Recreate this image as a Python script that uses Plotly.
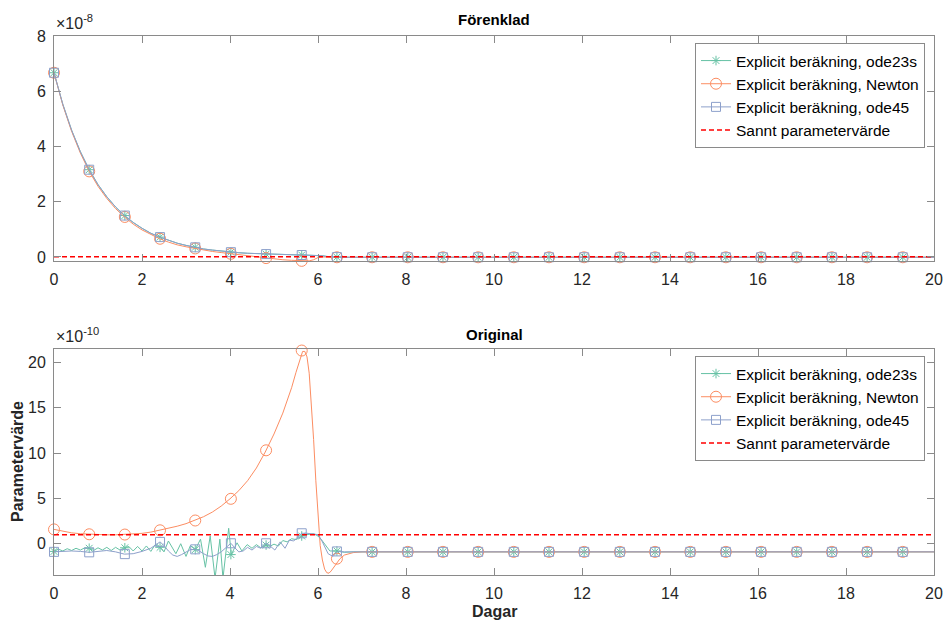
import plotly.graph_objects as go

# ---------------- data ----------------
# marker positions (days), shared by all series
t_mark = [0.0, 0.80, 1.61, 2.41, 3.21, 4.02, 4.82, 5.63, 6.43, 7.23, 8.04, 8.84,
          9.64, 10.45, 11.25, 12.05, 12.86, 13.66, 14.46, 15.27, 16.07, 16.88,
          17.68, 18.48, 19.29]

# ---- top panel "Förenklad" (units of 1e-8) ----
t_top = [0.0, 0.2, 0.4, 0.6, 0.8, 1.0, 1.2, 1.4, 1.6, 1.8, 2.0, 2.2, 2.4, 2.6,
         2.8, 3.0, 3.2, 3.4, 3.6, 3.8, 4.0, 4.2, 4.4, 4.6, 4.8, 5.0, 5.2, 5.4,
         5.6, 5.7, 5.8, 5.9, 6.0, 6.1, 6.2, 6.4, 6.6, 7.0, 8.0, 10.0, 12.0,
         14.0, 16.0, 18.0, 20.0]
top_ode23s = [6.67, 5.53, 4.59, 3.81, 3.16, 2.62, 2.18, 1.81, 1.50, 1.25, 1.04,
              0.86, 0.72, 0.60, 0.50, 0.42, 0.35, 0.29, 0.25, 0.21, 0.18, 0.155,
              0.135, 0.12, 0.105, 0.095, 0.085, 0.078, 0.072, 0.07, 0.068,
              0.065, 0.06, 0.045, 0.02, -0.005, -0.01, -0.01, -0.01, -0.01,
              -0.01, -0.01, -0.01, -0.01, -0.01]
top_newton = [6.67, 5.50, 4.55, 3.76, 3.10, 2.56, 2.12, 1.75, 1.45, 1.19, 0.98,
              0.81, 0.66, 0.54, 0.44, 0.37, 0.31, 0.25, 0.20, 0.16, 0.12, 0.08,
              0.04, 0.0, -0.04, -0.07, -0.10, -0.12, -0.14, -0.145, -0.14,
              -0.10, -0.02, 0.0, -0.005, -0.01, -0.01, -0.01, -0.01, -0.01,
              -0.01, -0.01, -0.01, -0.01, -0.01]
top_ode45 = [6.67, 5.53, 4.59, 3.81, 3.16, 2.62, 2.18, 1.81, 1.50, 1.25, 1.04,
             0.86, 0.72, 0.60, 0.50, 0.42, 0.35, 0.29, 0.25, 0.21, 0.18, 0.155,
             0.135, 0.12, 0.105, 0.095, 0.085, 0.078, 0.072, 0.07, 0.068,
             0.065, 0.06, 0.045, 0.02, -0.005, -0.01, -0.01, -0.01, -0.01,
             -0.01, -0.01, -0.01, -0.01, -0.01]
top_mark_ode23s = [6.67, 3.16, 1.50, 0.72, 0.35, 0.175, 0.105, 0.072, -0.005,
                   -0.01, -0.01, -0.01, -0.01, -0.01, -0.01, -0.01, -0.01,
                   -0.01, -0.01, -0.01, -0.01, -0.01, -0.01, -0.01, -0.01]
top_mark_newton = [6.67, 3.10, 1.45, 0.66, 0.31, 0.115, -0.04, -0.14, -0.01,
                   -0.01, -0.01, -0.01, -0.01, -0.01, -0.01, -0.01, -0.01,
                   -0.01, -0.01, -0.01, -0.01, -0.01, -0.01, -0.01, -0.01]
top_mark_ode45 = [6.67, 3.16, 1.50, 0.72, 0.35, 0.175, 0.105, 0.072, -0.005,
                  -0.01, -0.01, -0.01, -0.01, -0.01, -0.01, -0.01, -0.01,
                  -0.01, -0.01, -0.01, -0.01, -0.01, -0.01, -0.01, -0.01]
top_true = 0.01

# ---- bottom panel "Original" (units of 1e-10) ----
t_bot_newton = [0.0, 0.2, 0.4, 0.6, 0.8, 1.0, 1.2, 1.4, 1.6, 1.8, 2.0, 2.2, 2.4,
                2.6, 2.8, 3.0, 3.2, 3.4, 3.6, 3.8, 4.0, 4.2, 4.4, 4.6, 4.8, 5.0,
                5.2, 5.4, 5.5, 5.6, 5.65, 5.7, 5.75, 5.8, 5.85, 5.9, 5.95, 6.0,
                6.05, 6.1, 6.15, 6.2, 6.25, 6.3, 6.4, 6.5, 6.6, 6.8, 7.0, 7.5,
                8.0, 9.0, 10.0, 11.0, 11.6, 12.0, 13.0, 14.0, 14.6, 15.0, 16.0,
                16.6, 17.0, 18.0, 18.6, 19.0, 20.0]
bot_newton = [1.58, 1.35, 1.20, 1.10, 1.04, 1.00, 0.98, 0.98, 1.01, 1.06, 1.14,
              1.28, 1.48, 1.69, 1.93, 2.21, 2.56, 2.98, 3.49, 4.15, 4.95, 5.85,
              6.95, 8.35, 10.1, 12.1, 14.4, 17.2, 18.9, 20.6, 21.2, 21.2, 20.6,
              18.8, 15.5, 11.5, 7.0, 2.8, -0.2, -1.8, -2.8, -3.2, -3.25, -3.0,
              -2.3, -1.65, -1.25, -0.98, -0.9, -0.92, -0.9, -0.9, -0.9, -0.88,
              -0.96, -0.9, -0.9, -0.88, -0.96, -0.9, -0.9, -0.96, -0.9, -0.9,
              -0.96, -0.9, -0.9]

t_bot_ode23s = [0.0, 0.1, 0.2, 0.3, 0.4, 0.5, 0.6, 0.7, 0.8, 0.9, 1.0, 1.1, 1.2,
                1.3, 1.4, 1.5, 1.6, 1.7, 1.8, 1.9, 2.0, 2.1, 2.2, 2.3, 2.41,
                2.5, 2.6, 2.77, 2.88, 3.0, 3.1, 3.21, 3.33, 3.44, 3.55, 3.66,
                3.77, 3.84, 3.97, 4.03, 4.16, 4.27, 4.39, 4.5, 4.6, 4.7, 4.82,
                4.9, 5.0, 5.1, 5.2, 5.3, 5.4, 5.5, 5.63, 5.75, 5.9, 6.0, 6.1,
                6.2, 6.27, 6.43, 6.6, 6.8, 7.0, 8.0, 10.0, 12.0, 14.0, 16.0,
                18.0, 20.0]
bot_ode23s = [-0.85, -0.6, -0.8, -0.55, -0.75, -0.5, -0.7, -0.45, -0.5, -0.75,
              -0.45, -0.7, -0.4, -0.75, -0.4, -0.7, -0.45, -0.3, -0.8, -0.3,
              -0.8, -0.25, -0.85, -0.1, -0.4, -0.9, 0.3, -1.1, 0.0, -1.4, -0.2,
              -0.65, 0.5, -2.6, 0.85, -3.8, 0.5, -3.8, 1.7, -1.2, 0.1, -0.8,
              -0.1, -0.5, -0.1, -0.45, -0.15, -0.3, -0.05, -0.25, 0.35, 0.2,
              0.55, 0.45, 0.85, 1.0, 1.1, 0.85, 0.3, -0.4, -0.8, -0.8, -0.95,
              -0.9, -0.9, -0.9, -0.9, -0.9, -0.9, -0.9, -0.9, -0.9]

t_bot_ode45 = [0.0, 0.2, 0.4, 0.6, 0.8, 1.0, 1.2, 1.4, 1.6, 1.8, 2.0, 2.2, 2.3,
               2.41, 2.5, 2.6, 2.7, 2.8, 2.9, 3.0, 3.1, 3.21, 3.3, 3.4, 3.5,
               3.6, 3.7, 3.8, 3.9, 4.02, 4.1, 4.2, 4.3, 4.4, 4.5, 4.6, 4.7,
               4.82, 4.9, 5.02, 5.14, 5.25, 5.35, 5.45, 5.55, 5.63, 5.75, 5.9,
               6.0, 6.08, 6.15, 6.23, 6.34, 6.45, 6.6, 7.0, 8.0, 10.0, 12.0,
               14.0, 16.0, 18.0, 20.0]
bot_ode45 = [-0.9, -0.85, -0.8, -0.85, -0.95, -0.85, -0.75, -0.9, -1.15, -1.1,
             -0.85, -0.5, -0.2, 0.2, -0.2, -0.8, -1.25, -1.4, -1.2, -0.9,
             -0.65, -0.62, -0.8, -1.1, -1.35, -1.4, -1.2, -0.9, -0.5, 0.05,
             -0.4, -0.9, -0.8, -0.4, -0.7, -0.3, -0.5, 0.05, -0.2, -0.7, 0.2,
             -0.5, 0.4, 0.3, 0.8, 1.15, 1.15, 1.05, 1.0, 0.4, -0.3, -1.1, -1.4,
             -0.85, -0.9, -0.9, -0.9, -0.9, -0.9, -0.9, -0.9, -0.9, -0.9]

bot_mark_ode23s = [-0.85, -0.5, -0.45, -0.4, -0.65, -1.2, -0.15, 0.85, -0.8,
                   -0.9, -0.9, -0.9, -0.9, -0.9, -0.9, -0.9, -0.9, -0.9, -0.9,
                   -0.9, -0.9, -0.9, -0.9, -0.9, -0.9]
bot_mark_newton = [1.58, 1.04, 1.01, 1.48, 2.56, 4.95, 10.3, 21.3, -1.65, -0.9,
                   -0.9, -0.9, -0.9, -0.9, -0.9, -0.9, -0.9, -0.9, -0.9, -0.9,
                   -0.9, -0.9, -0.9, -0.9, -0.9]
bot_mark_ode45 = [-0.9, -0.95, -1.15, 0.2, -0.62, 0.05, 0.05, 1.15, -0.85, -0.9,
                  -0.9, -0.9, -0.9, -0.9, -0.9, -0.9, -0.9, -0.9, -0.9, -0.9,
                  -0.9, -0.9, -0.9, -0.9, -0.9]
bot_true = 1.0

true_x = [0, 20]

names = ["Explicit beräkning, ode23s", "Explicit beräkning, Newton",
         "Explicit beräkning, ode45", "Sannt parametervärde"]
colors = ["#66c2a5", "#fc8d62", "#8da0cb", "#ff0000"]
symbols = ["asterisk-open", "circle-open", "square-open"]
msizes = [8, 11, 9]

# ---------------- figure ----------------
FONT = "Arial, Liberation Sans, Helvetica, sans-serif"
W, H = 946, 624
fig = go.Figure()


def add_series(t, y, ym, k, xa, ya, leg):
    c = colors[k]
    fig.add_trace(go.Scatter(x=t, y=y, mode="lines", line=dict(color=c, width=1),
                             showlegend=False, hoverinfo="skip", xaxis=xa, yaxis=ya))
    mk = dict(symbol=symbols[k], size=msizes[k], color=c, line=dict(color=c, width=1))
    fig.add_trace(go.Scatter(x=t_mark, y=ym, mode="markers", marker=mk,
                             showlegend=False, cliponaxis=False, xaxis=xa, yaxis=ya))
    fig.add_trace(go.Scatter(x=[None], y=[None], mode="lines+markers",
                             line=dict(color=c, width=1), marker=mk, name=names[k],
                             legend=leg, xaxis=xa, yaxis=ya))


def add_true(val, xa, ya, leg):
    fig.add_trace(go.Scatter(x=true_x, y=[val, val], mode="lines",
                             line=dict(color=colors[3], width=1.5, dash="5px,3px"),
                             name=names[3], legend=leg, xaxis=xa, yaxis=ya))


add_series(t_top, top_ode23s, top_mark_ode23s, 0, "x", "y", "legend")
add_series(t_top, top_newton, top_mark_newton, 1, "x", "y", "legend")
add_series(t_top, top_ode45, top_mark_ode45, 2, "x", "y", "legend")
add_true(top_true, "x", "y", "legend")

add_series(t_bot_ode23s, bot_ode23s, bot_mark_ode23s, 0, "x2", "y2", "legend2")
add_series(t_bot_newton, bot_newton, bot_mark_newton, 1, "x2", "y2", "legend2")
add_series(t_bot_ode45, bot_ode45, bot_mark_ode45, 2, "x2", "y2", "legend2")
add_true(bot_true, "x2", "y2", "legend2")

AX = dict(showline=True, linecolor="#8a8a8a", linewidth=1, mirror="ticks",
          ticks="inside", ticklen=7, tickwidth=1, tickcolor="#8a8a8a",
          showgrid=False, zeroline=False,
          tickfont=dict(family=FONT, size=16, color="#262626"))

xdom = [54 / W, 934 / W]
top_dom = [(H - 261) / H, (H - 36) / H]
bot_dom = [(H - 575) / H, (H - 349) / H]
xt = [0, 2, 4, 6, 8, 10, 12, 14, 16, 18, 20]

legstyle = dict(xanchor="right", yanchor="top", x=925 / W,
                bgcolor="white", bordercolor="#8a8a8a", borderwidth=1,
                font=dict(family=FONT, size=15.5, color="#000000"),
                tracegroupgap=0, itemsizing="trace")

fig.update_layout(
    width=W, height=H, margin=dict(l=0, r=0, t=0, b=0, autoexpand=False),
    paper_bgcolor="white", plot_bgcolor="white",
    font=dict(family=FONT, color="#262626"),
    xaxis=dict(domain=xdom, anchor="y", range=[0, 20], tickvals=xt,
               ticklabelstandoff=4, **AX),
    yaxis=dict(domain=top_dom, anchor="x", range=[-0.145, 8.0], tickvals=[0, 2, 4, 6, 8],
               ticklabelstandoff=4, **AX),
    xaxis2=dict(domain=xdom, anchor="y2", range=[0, 20], tickvals=xt,
                ticklabelstandoff=4, **AX),
    yaxis2=dict(domain=bot_dom, anchor="x2", range=[-3.45, 21.47], tickvals=[0, 5, 10, 15, 20],
                ticklabelstandoff=4, **AX),
    legend=dict(y=(H - 43) / H, **legstyle),
    legend2=dict(y=(H - 356) / H, **legstyle),
    showlegend=True,
)

ann = [
    dict(text="<b>Förenklad</b>", x=494 / W, y=(H - 19) / H, xanchor="center", yanchor="middle",
         font=dict(family=FONT, size=15, color="#000000")),
    dict(text="<b>Original</b>", x=494 / W, y=(H - 334) / H, xanchor="center", yanchor="middle",
         font=dict(family=FONT, size=15, color="#000000")),
    dict(text="×10<sup>-8</sup>", x=54 / W, y=(H - 34) / H, xanchor="left", yanchor="bottom",
         font=dict(family=FONT, size=16, color="#262626")),
    dict(text="×10<sup>-10</sup>", x=54 / W, y=(H - 347) / H, xanchor="left", yanchor="bottom",
         font=dict(family=FONT, size=16, color="#262626")),
    dict(text="<b>Parametervärde</b>", x=17 / W, y=(H - 462) / H, xanchor="center", yanchor="middle",
         textangle=-90, font=dict(family=FONT, size=16, color="#262626")),
    dict(text="<b>Dagar</b>", x=494 / W, y=(H - 611) / H, xanchor="center", yanchor="middle",
         font=dict(family=FONT, size=16, color="#262626")),
]
for a in ann:
    a.update(xref="paper", yref="paper", showarrow=False)
fig.update_layout(annotations=ann)

fig.write_html("out.html",
               post_script="document.body.style.margin='0';document.body.style.overflow='hidden';")
